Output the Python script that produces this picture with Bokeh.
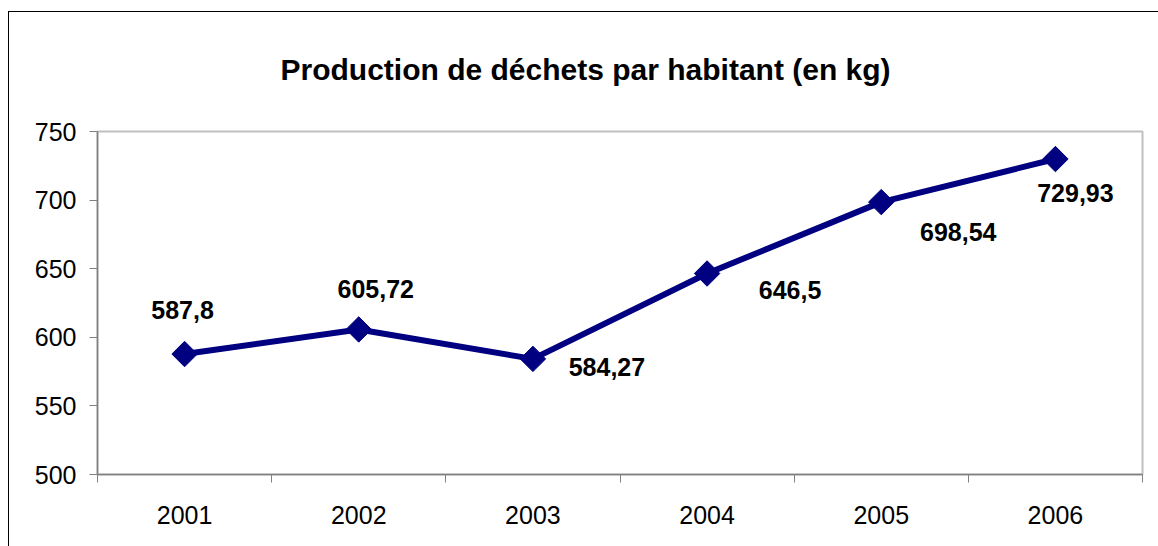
from bokeh.plotting import figure
from bokeh.models import (ColumnDataSource, FixedTicker, LabelSet, InlineStyleSheet)
from bokeh.embed import file_html
from bokeh.resources import INLINE
from bokeh.core.properties import value

# ---- data ----
years = ["2001", "2002", "2003", "2004", "2005", "2006"]
waste_kg = [587.8, 605.72, 584.27, 646.5, 698.54, 729.93]
labels = ["587,8", "605,72", "584,27", "646,5", "698,54", "729,93"]
y_ticks = [500, 550, 600, 650, 700, 750]
title_text = "Production de déchets par habitant (en kg)"

# label placement (pixel offsets, up positive)
label_dx = [-2, 17, 74, 83, 77, 20]
label_dy = [44, 40, -8, -16, -30, -34]

FONT = "Liberation Sans"
NAVY = "#000080"

xs = [i + 0.5 for i in range(len(years))]
src = ColumnDataSource(dict(x=xs, y=waste_kg, lab=labels, dx=label_dx, dy=label_dy))

p = figure(width=1158, height=546, x_range=(0, len(years)), y_range=(y_ticks[0], y_ticks[-1]),
           output_backend="svg", toolbar_location=None,
           min_border_left=97, min_border_right=16, min_border_top=131, min_border_bottom=72)
p.background_fill_color = "white"
p.border_fill_color = "white"
p.outline_line_color = "#c0c0c0"
p.outline_line_width = 2
p.xgrid.visible = False
p.ygrid.visible = False

# title
p.title.text = title_text
p.title.align = "left"
p.title.offset = 183
p.title.standoff = 92
p.title.text_font = FONT
p.title.text_font_style = "bold"
p.title.text_font_size = "30px"
p.title.text_color = "black"

# y axis
p.yaxis.ticker = FixedTicker(ticks=y_ticks)
p.yaxis.axis_line_color = "#808080"
p.yaxis.axis_line_width = 1.5
p.yaxis.major_tick_line_color = "#808080"
p.yaxis.major_tick_out = 8
p.yaxis.major_tick_in = 0
p.yaxis.minor_tick_line_color = None
p.yaxis.major_label_text_font = FONT
p.yaxis.major_label_text_font_size = "25px"
p.yaxis.major_label_text_color = "black"
p.yaxis.major_label_standoff = 13

# x axis: labels at category centers, ticks at boundaries
p.xaxis.ticker = FixedTicker(ticks=xs, minor_ticks=list(range(len(years) + 1)))
p.xaxis.major_label_overrides = {x: y for x, y in zip(xs, years)}
p.xaxis.axis_line_color = "#808080"
p.xaxis.axis_line_width = 1.5
p.xaxis.major_tick_line_color = None
p.xaxis.major_tick_out = 0
p.xaxis.major_tick_in = 0
p.xaxis.minor_tick_line_color = "#808080"
p.xaxis.minor_tick_out = 8
p.xaxis.minor_tick_in = 0
p.xaxis.major_label_text_font = FONT
p.xaxis.major_label_text_font_size = "25px"
p.xaxis.major_label_text_color = "black"
p.xaxis.major_label_standoff = 23

# series
p.line("x", "y", source=src, line_color=NAVY, line_width=6)
p.scatter("x", "y", source=src, marker="square", size=18, angle=0.785398,
          fill_color=NAVY, line_color=NAVY)

p.add_layout(LabelSet(x="x", y="y", text="lab", source=src, x_offset="dx", y_offset="dy",
                      text_align="center", text_baseline="middle",
                      text_font=value(FONT), text_font_style="bold",
                      text_font_size="25px", text_color="black"))

# outer chart border (left and top edges visible in the window)
p.stylesheets = [InlineStyleSheet(css="""
:host { position: relative; }
:host::after { content: ""; position: absolute; left: 8px; top: 11px; right: 0; bottom: 0;
  border-left: 1px solid black; border-top: 1px solid black; pointer-events: none; z-index: 10; }
""")]

open("out.html", "w").write(file_html(p, INLINE))
